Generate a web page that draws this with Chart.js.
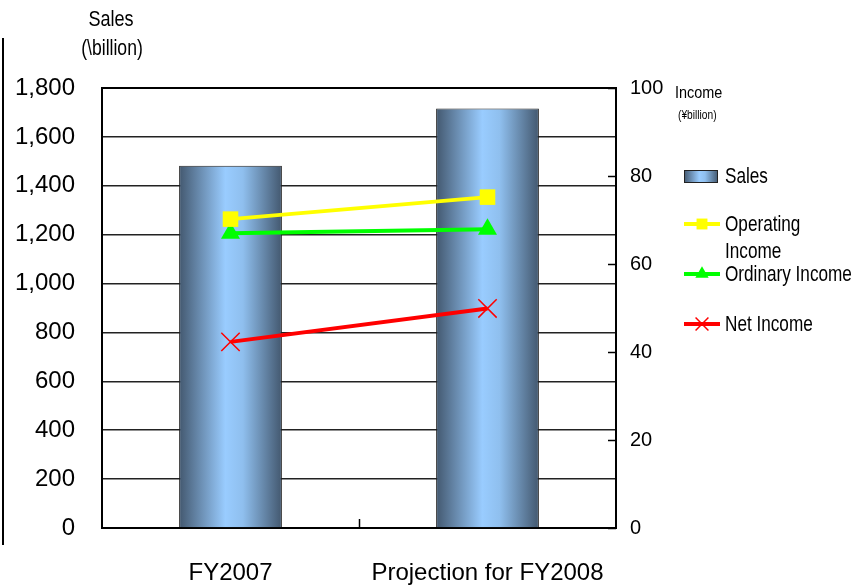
<!DOCTYPE html>
<html>
<head>
<meta charset="utf-8">
<script src="https://cdn.jsdelivr.net/npm/chart.js@4.4.1/dist/chart.umd.min.js"></script>
<style>
  body { margin: 0; background: #fff; }
  canvas { display: block; }
</style>
</head>
<body>
<canvas id="salesChart" width="854" height="587"></canvas>
<script>
// Chart data
const categories = ['FY2007', 'Projection for FY2008'];
const sales = [1482, 1716];             // \billion, left axis
const operatingIncome = [70.2, 75.2];   // ¥billion, right axis
const ordinaryIncome = [67.0, 67.9];
const netIncome = [42.3, 49.9];
const salesTickMax = 1800;
const salesTickStep = 200;
const incomeTickMax = 100;
const incomeTickStep = 20;

const FONT = "'Liberation Sans', Arial, sans-serif";

// horizontal "cylinder" gradient for the bars
function barGradient(c, x0, x1) {
    const g = c.createLinearGradient(x0, 0, x1, 0);
    g.addColorStop(0, '#43586f');
    g.addColorStop(0.45, '#99ccff');
    g.addColorStop(0.62, '#8fbfee');
    g.addColorStop(1, '#43586f');
    return g;
}

// text squeezed horizontally (the original font is a narrow one)
function narrowText(c, text, x, y, sx) {
    c.save();
    c.translate(x, y);
    c.scale(sx, 1);
    c.fillText(text, 0, 0);
    c.restore();
}

const extrasPlugin = {
    id: 'extras',
    afterDraw(chart) {
        const c = chart.ctx;
        const area = chart.chartArea;
        const x = chart.scales.x;
        const y1 = chart.scales.y1;
        c.save();

        // inward ticks on the right axis
        c.strokeStyle = '#000';
        c.lineWidth = 1.5;
        y1.ticks.forEach(t => {
            const py = Math.round(y1.getPixelForValue(t.value)) + 0.5;
            c.beginPath();
            c.moveTo(area.right - 8, py);
            c.lineTo(area.right, py);
            c.stroke();
        });
        // tick between the categories on the x axis
        for (let i = 0; i < categories.length - 1; i++) {
            const px = Math.round((x.getPixelForTick(i) + x.getPixelForTick(i + 1)) / 2) + 0.5;
            c.beginPath();
            c.moveTo(px, area.bottom);
            c.lineTo(px, area.bottom - 9);
            c.stroke();
        }

        // plot border (top line)
        c.lineWidth = 2;
        c.beginPath();
        c.moveTo(area.left, area.top);
        c.lineTo(area.right, area.top);
        c.stroke();

        // left edge line
        c.beginPath();
        c.moveTo(3, 38);
        c.lineTo(3, 545);
        c.stroke();

        // axis titles
        c.fillStyle = '#000';
        c.textAlign = 'center';
        c.textBaseline = 'middle';
        c.font = '22px ' + FONT;
        narrowText(c, 'Sales', 111, 20, 0.82);
        narrowText(c, '(\\billion)', 112, 49, 0.8);
        c.textAlign = 'left';
        c.font = '17px ' + FONT;
        narrowText(c, 'Income', 675, 93, 0.85);
        c.font = '12px ' + FONT;
        narrowText(c, '(¥billion)', 678, 116, 0.85);

        // legend
        const lx = area.right + 68;
        const tx = lx + 41;
        c.font = '22px ' + FONT;
        const rows = [176, 224, 274, 324];
        chart.data.datasets.forEach((ds, i) => {
            const yy = rows[i];
            if (ds.type === 'bar') {
                c.fillStyle = barGradient(c, lx, lx + 34);
                c.fillRect(lx, yy - 6, 34, 13);
                c.strokeStyle = '#222';
                c.lineWidth = 1;
                c.strokeRect(lx + 0.5, yy - 5.5, 33, 12);
            } else {
                c.strokeStyle = ds.borderColor;
                c.fillStyle = ds.borderColor;
                c.lineWidth = 4;
                c.beginPath();
                c.moveTo(lx, yy);
                c.lineTo(lx + 36, yy);
                c.stroke();
                c.lineWidth = ds.pointBorderWidth || 1;
                Chart.helpers.drawPoint(c, {
                    pointStyle: ds.pointStyle,
                    radius: ds.pointRadius * 0.7,
                    rotation: ds.pointRotation || 0,
                    borderWidth: ds.pointBorderWidth
                }, lx + 18, yy);
            }
            c.fillStyle = '#000';
            c.textBaseline = 'middle';
            const lines = ds.legendLines || [ds.label];
            lines.forEach((t, k) => narrowText(c, t, tx, yy + 1 + k * 27, 0.78));
        });
        c.restore();
    }
};

new Chart(document.getElementById('salesChart'), {
    data: {
        labels: categories,
        datasets: [{
            type: 'bar',
            label: 'Sales',
            data: sales,
            yAxisID: 'y',
            order: 2,
            backgroundColor: (ctx) => {
                const xs = ctx.chart.scales.x;
                if (!xs || ctx.type !== 'data') return '#7fa9d6';
                const cx = xs.getPixelForValue(ctx.dataIndex);
                const w = (xs.right - xs.left) / categories.length * 0.4;
                if (!isFinite(cx) || !isFinite(w) || w <= 0) return '#7fa9d6';
                return barGradient(ctx.chart.ctx, cx - w / 2, cx + w / 2);
            },
            borderColor: '#222',
            borderWidth: 1,
            categoryPercentage: 1,
            barPercentage: 0.4
        }, {
            type: 'line',
            label: 'Operating Income',
            legendLines: ['Operating', 'Income'],
            data: operatingIncome,
            yAxisID: 'y1',
            order: 1,
            borderColor: '#ffff00',
            backgroundColor: '#ffff00',
            borderWidth: 4,
            pointStyle: 'rect',
            pointRadius: 11,
            pointBorderWidth: 0,
            pointBackgroundColor: '#ffff00',
            pointBorderColor: '#ffff00'
        }, {
            type: 'line',
            label: 'Ordinary Income',
            data: ordinaryIncome,
            yAxisID: 'y1',
            order: 1,
            borderColor: '#00ff00',
            backgroundColor: '#00ff00',
            borderWidth: 4,
            pointStyle: 'triangle',
            pointRadius: 11,
            pointBorderWidth: 0,
            pointBackgroundColor: '#00ff00',
            pointBorderColor: '#00ff00'
        }, {
            type: 'line',
            label: 'Net Income',
            data: netIncome,
            yAxisID: 'y1',
            order: 1,
            borderColor: '#ff0000',
            backgroundColor: '#ff0000',
            borderWidth: 4,
            pointStyle: 'cross',
            pointRotation: 45,
            pointRadius: 13,
            pointBorderWidth: 1.5,
            pointBackgroundColor: '#ff0000',
            pointBorderColor: '#ff0000'
        }]
    },
    options: {
        responsive: false,
        animation: false,
        layout: { padding: { top: 88, left: 0, right: 0, bottom: 0 } },
        plugins: {
            legend: { display: false },
            tooltip: { enabled: false }
        },
        scales: {
            x: {
                afterFit: (s) => { s.height = 59; },
                grid: { display: false, drawTicks: false },
                border: { display: true, color: '#000', width: 2 },
                ticks: {
                    color: '#000',
                    padding: 31,
                    maxRotation: 0,
                    minRotation: 0,
                    autoSkip: false,
                    font: { family: FONT, size: 24 }
                }
            },
            y: {
                position: 'left',
                min: 0,
                max: salesTickMax,
                afterFit: (s) => { s.width = 102; },
                ticks: {
                    stepSize: salesTickStep,
                    color: '#000',
                    padding: 27,
                    font: { family: FONT, size: 24 },
                    callback: (v) => v.toLocaleString('en-US')
                },
                grid: { color: '#222', lineWidth: 1.5, drawTicks: false },
                border: { display: true, color: '#000', width: 2 }
            },
            y1: {
                position: 'right',
                min: 0,
                max: incomeTickMax,
                afterFit: (s) => { s.width = 238; },
                ticks: {
                    stepSize: incomeTickStep,
                    color: '#000',
                    padding: 14,
                    font: { family: FONT, size: 20 }
                },
                grid: { drawOnChartArea: false, drawTicks: false },
                border: { display: true, color: '#000', width: 2 }
            }
        }
    },
    plugins: [extrasPlugin]
});
</script>
</body>
</html>
